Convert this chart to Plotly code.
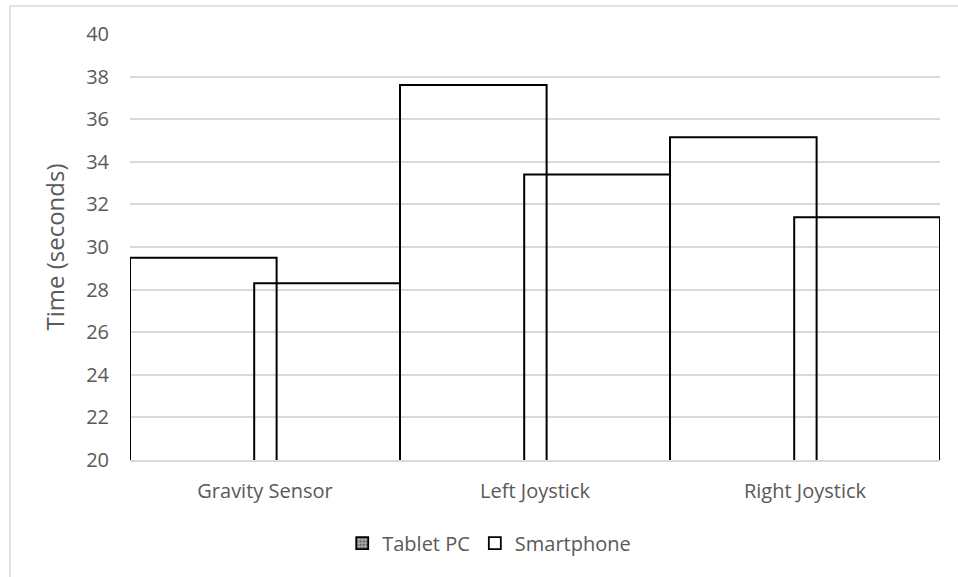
import plotly.graph_objects as go

categories = ["Gravity Sensor", "Left Joystick", "Right Joystick"]
tablet_pc = [29.5, 37.6, 35.15]
smartphone = [28.3, 33.4, 31.4]
series_names = ["Tablet PC", "Smartphone"]
y_ticks = list(range(20, 41, 2))

FONT = "Open Sans"
GRAY = "#595959"
GRID = "#d9d9d9"

fig = go.Figure()

fig.add_trace(go.Bar(
    x=categories, y=tablet_pc, name=series_names[0], showlegend=False,
    offset=-0.5, width=0.543,
    marker=dict(color="rgba(0,0,0,0)", line=dict(color="black", width=2)),
))
fig.add_trace(go.Bar(
    x=categories, y=smartphone, name=series_names[1], showlegend=False,
    offset=-0.04, width=0.54,
    marker=dict(color="rgba(0,0,0,0)", line=dict(color="black", width=2)),
))

# legend entries
fig.add_trace(go.Bar(
    x=[categories[0]], y=[None], name=series_names[0], showlegend=True,
    marker=dict(color="white", line=dict(color="black", width=1.8),
                pattern=dict(shape=".", fgcolor="#1a1a1a", bgcolor="#b0b0b0",
                             size=4, solidity=0.5)),
))
fig.add_trace(go.Bar(
    x=[categories[0]], y=[None], name=series_names[1], showlegend=True,
    marker=dict(color="white", line=dict(color="black", width=1.8)),
))

bx0 = (10 - 130) / 810
by1 = (460 - 6) / 426
border = dict(color=GRID, width=1.5)

fig.update_layout(
    width=958, height=577,
    margin=dict(l=130, r=18, t=34, b=117),
    paper_bgcolor="white", plot_bgcolor="white",
    barmode="overlay",
    font=dict(family=FONT, color=GRAY, size=20),
    showlegend=True,
    legend=dict(orientation="h", x=0.262, xanchor="left", y=-0.195, yanchor="middle",
                font=dict(size=20, color=GRAY), itemwidth=30,
                bgcolor="rgba(0,0,0,0)"),
    xaxis=dict(showgrid=False, showline=True, linecolor=GRID, linewidth=1.5,
               ticks="", tickfont=dict(size=20, color=GRAY), ticklabelstandoff=12,
               range=[-0.5, 2.5]),
    yaxis=dict(range=[20, 40], tickvals=y_ticks, showgrid=True, gridcolor=GRID,
               gridwidth=1.5, zeroline=False, showline=False, ticks="",
               tickfont=dict(size=20, color=GRAY), ticklabelstandoff=20,
               title=dict(text="Time (seconds)", font=dict(size=24, color=GRAY),
                          standoff=14)),
    shapes=[
        dict(type="line", xref="paper", yref="paper", x0=bx0, x1=1.2, y0=by1, y1=by1,
             line=border, layer="above"),
        dict(type="line", xref="paper", yref="paper", x0=bx0, x1=bx0, y0=-0.5, y1=by1,
             line=border, layer="above"),
    ],
)

fig.write_html("out.html", config={"displayModeBar": False},
               post_script="document.body.style.margin='0';")
